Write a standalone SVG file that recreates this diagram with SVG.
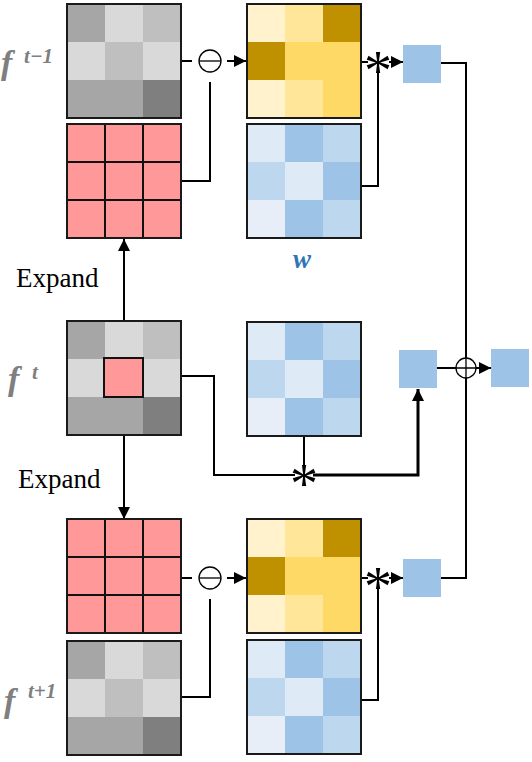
<svg xmlns="http://www.w3.org/2000/svg" xmlns:xlink="http://www.w3.org/1999/xlink" width="532" height="762" viewBox="0 0 532 762">
<style>
.con{fill:none;stroke:#000;stroke-width:2}
.thick{fill:none;stroke:#000;stroke-width:3}
.op{fill:#fff;stroke:#000;stroke-width:1.3}
.opl{stroke:#000;stroke-width:1.3}
.frame{fill:none;stroke:#1a1a1a;stroke-width:2}
.sq{fill:#9dc3e6}
.lab{font-family:"Liberation Serif",serif;font-size:27px;fill:#000}
.fl{font-family:"Liberation Serif",serif;font-weight:bold;font-style:italic;fill:#7f7f7f}
.ast{font-family:"Liberation Serif",serif;font-size:56px;fill:#000;text-anchor:middle}
.halo{fill:#fff}
</style>
<defs>
<marker id="ah" markerWidth="12" markerHeight="12" refX="10" refY="5" orient="auto" markerUnits="userSpaceOnUse" viewBox="0 0 10 10">
<path d="M0,0 L10,5 L0,10 Z" fill="#000"/>
</marker>
<g id="gray">
<rect x="0" y="0" width="38" height="38" fill="#a6a6a6"/>
<rect x="38" y="0" width="38" height="38" fill="#d9d9d9"/>
<rect x="76" y="0" width="38" height="38" fill="#bfbfbf"/>
<rect x="0" y="38" width="38" height="38" fill="#d9d9d9"/>
<rect x="38" y="38" width="38" height="38" fill="#bfbfbf"/>
<rect x="76" y="38" width="38" height="38" fill="#d9d9d9"/>
<rect x="0" y="76" width="38" height="38" fill="#a6a6a6"/>
<rect x="38" y="76" width="38" height="38" fill="#a6a6a6"/>
<rect x="76" y="76" width="38" height="38" fill="#7f7f7f"/>
<rect class="frame" x="0" y="0" width="114" height="114"/>
</g>
<g id="yellow">
<rect x="0" y="0" width="38" height="38" fill="#fff2cc"/>
<rect x="38" y="0" width="38" height="38" fill="#ffe699"/>
<rect x="76" y="0" width="38" height="38" fill="#bf9000"/>
<rect x="0" y="38" width="38" height="38" fill="#bf9000"/>
<rect x="38" y="38" width="38" height="38" fill="#ffd966"/>
<rect x="76" y="38" width="38" height="38" fill="#ffd966"/>
<rect x="0" y="76" width="38" height="38" fill="#fff2cc"/>
<rect x="38" y="76" width="38" height="38" fill="#ffe699"/>
<rect x="76" y="76" width="38" height="38" fill="#ffd966"/>
<rect class="frame" x="0" y="0" width="114" height="114"/>
</g>
<g id="blue">
<rect x="0" y="0" width="38" height="38" fill="#deebf7"/>
<rect x="38" y="0" width="38" height="38" fill="#9dc3e6"/>
<rect x="76" y="0" width="38" height="38" fill="#bdd7ee"/>
<rect x="0" y="38" width="38" height="38" fill="#bdd7ee"/>
<rect x="38" y="38" width="38" height="38" fill="#deebf7"/>
<rect x="76" y="38" width="38" height="38" fill="#9dc3e6"/>
<rect x="0" y="76" width="38" height="38" fill="#e8eef8"/>
<rect x="38" y="76" width="38" height="38" fill="#9dc3e6"/>
<rect x="76" y="76" width="38" height="38" fill="#bdd7ee"/>
<rect class="frame" x="0" y="0" width="114" height="114"/>
</g>
<g id="red">
<rect x="0" y="0" width="114" height="114" fill="#ff9999"/>
<path d="M38,0V114M76,0V114M0,38H114M0,76H114" stroke="#111" stroke-width="2"/>
<rect class="frame" x="0" y="0" width="114" height="114"/>
</g>
</defs>
<rect width="532" height="762" fill="#fff"/>

<g id="connectors">
<path class="con" d="M181,61H192"/>
<path class="con" d="M227,61H246" marker-end="url(#ah)"/>
<path class="con" d="M210,82V181H181"/>
<path class="con" d="M361,62H368"/>
<path class="con" d="M389,62H403" marker-end="url(#ah)"/>
<path class="con" d="M378,72V186H361"/>
<path class="con" d="M441,63H466V358"/>
<path class="con" d="M466,378V578H441"/>
<path class="con" d="M437,368H456"/>
<path class="con" d="M476,368H491" marker-end="url(#ah)"/>
<path class="con" d="M124,358V239" marker-end="url(#ah)"/>
<path class="con" d="M124,397V519" marker-end="url(#ah)"/>
<path class="con" d="M181,376H214V475H295"/>
<path class="con" d="M304,436V466"/>
<path class="thick" d="M313,475H418V389" marker-end="url(#ah)"/>
<path class="con" d="M181,578H192"/>
<path class="con" d="M227,578H246" marker-end="url(#ah)"/>
<path class="con" d="M210,599V697H181"/>
<path class="con" d="M361,578H368"/>
<path class="con" d="M389,578H403" marker-end="url(#ah)"/>
<path class="con" d="M378,588V700H361"/>
</g>

<g id="f_tm1"><use xlink:href="#gray" x="67" y="4"/></g>
<g id="expand_tm1"><use xlink:href="#red" x="67" y="124"/></g>
<g id="diff_tm1"><use xlink:href="#yellow" x="247" y="4"/></g>
<g id="w_tm1"><use xlink:href="#blue" x="247" y="124"/></g>
<g id="f_t">
<use xlink:href="#gray" x="67" y="321"/>
<rect x="104" y="358" width="39" height="39" fill="#ff9999" stroke="#111" stroke-width="2"/>
</g>
<g id="w_t"><use xlink:href="#blue" x="247" y="322"/></g>
<g id="expand_tp1"><use xlink:href="#red" x="67" y="519"/></g>
<g id="f_tp1"><use xlink:href="#gray" x="67" y="641"/></g>
<g id="diff_tp1"><use xlink:href="#yellow" x="247" y="519"/></g>
<g id="w_tp1"><use xlink:href="#blue" x="247" y="640"/></g>

<g id="out_tm1"><rect class="sq" x="403" y="45" width="38" height="38"/></g>
<g id="out_t"><rect class="sq" x="399" y="350" width="38" height="38"/></g>
<g id="out_tp1"><rect class="sq" x="403" y="559" width="38" height="38"/></g>
<g id="out_sum"><rect class="sq" x="491" y="349" width="38" height="38"/></g>

<g id="minus_top"><circle class="op" cx="210" cy="61" r="11"/><path class="opl" d="M199,61H221"/></g>
<g id="minus_bot"><circle class="op" cx="210" cy="578" r="11"/><path class="opl" d="M199,578H221"/></g>
<g id="plus"><circle class="op" cx="466" cy="368" r="10"/><path class="opl" d="M456,368H476M466,358V378"/></g>
<g id="conv_top"><rect class="halo" x="369" y="52" width="18" height="20"/><text class="ast" x="378" y="90">*</text></g>
<g id="conv_mid"><rect class="halo" x="295" y="465" width="18" height="20"/><text class="ast" x="304" y="503">*</text></g>
<g id="conv_bot"><rect class="halo" x="369" y="568" width="18" height="20"/><text class="ast" x="378" y="606">*</text></g>

<g id="labels">
<text class="lab" x="16" y="287">Expand</text>
<text class="lab" x="18" y="488">Expand</text>
<text x="302" y="268" text-anchor="middle" font-family="Liberation Serif, serif" font-weight="bold" font-style="italic" font-size="27" fill="#2e75b6">w</text>
<text class="fl" x="1" y="74" font-size="34">f</text>
<text class="fl" x="24" y="63" font-size="21" font-style="normal">t−1</text>
<text class="fl" x="8" y="390" font-size="34">f</text>
<text class="fl" x="32" y="379" font-size="21" font-style="normal">t</text>
<text class="fl" x="4" y="712" font-size="34">f</text>
<text class="fl" x="28" y="698" font-size="21" font-style="normal">t+1</text>
</g>
</svg>
